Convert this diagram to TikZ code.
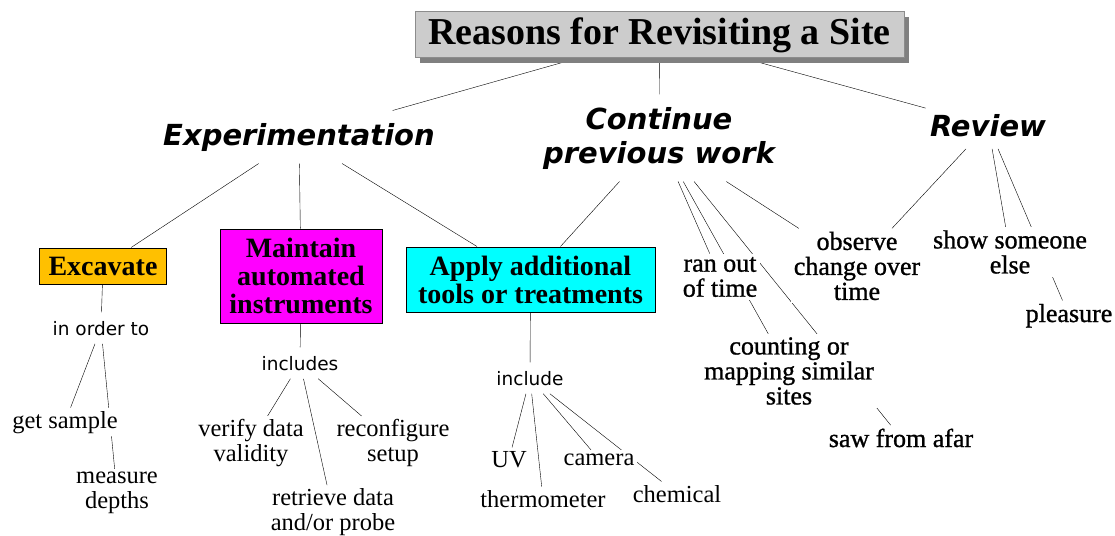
\documentclass[tikz,border=0pt]{standalone}
\usepackage{fontspec}
\setmainfont{Liberation Serif}
\newfontfamily\catfamily{DejaVu Sans Bold Oblique}
\newfontfamily\linkfamily{DejaVu Sans}
\newfontfamily\heavyfamily{Liberation Serif}[FakeBold=1]
\usetikzlibrary{backgrounds,shadows}
\definecolor{titlegray}{RGB}{204,204,204}
\definecolor{excavateorange}{RGB}{255,192,0}
\definecolor{maintainmagenta}{RGB}{255,0,255}
\definecolor{applycyan}{RGB}{0,255,255}

\begin{document}
\begin{tikzpicture}[x=1pt, y=1pt, line width=1pt,
    titlebox/.style={draw=black!45, fill=titlegray, minimum width=489pt, minimum height=46pt, outer sep=4pt,
        general shadow={fill=black!50, shadow xshift=5pt, shadow yshift=-5pt},
        font=\bfseries\fontsize{38}{40}\selectfont},
    category/.style={font=\catfamily\fontsize{29}{34}\selectfont, align=center, inner xsep=4pt, inner ysep=12pt, fill=white},
    actbox/.style={draw, font=\bfseries\fontsize{28}{28}\selectfont, align=center},
    linkword/.style={font=\linkfamily\fontsize{18.5}{22}\selectfont, inner xsep=4pt, inner ysep=8pt, fill=white},
    leaf/.style={font=\fontsize{24.5}{24.5}\selectfont, align=center, inner sep=3pt, fill=white},
    bigleaf/.style={font=\heavyfamily\fontsize{26}{25}\selectfont, align=center, inner sep=3pt, fill=white}]
    \useasboundingbox (0,0) rectangle (1115,-535);

    \node[titlebox] (title) at (659.5,-35) {Reasons for Revisiting a Site};
    \node[category, anchor=base] (exp) at (299,-145) {Experimentation};
    \node[category] (cont) at (659,-138) {Continue\\previous work};
    \node[category, anchor=base] (review) at (988,-136) {Review};

    \node[actbox, fill=excavateorange, minimum width=127pt, minimum height=36pt] (excavate) at (103,-266) {Excavate};
    \node[actbox, fill=maintainmagenta, minimum width=162pt, minimum height=94pt] (maintain) at (301,-276) {Maintain\\automated\\instruments};
    \node[actbox, fill=applycyan, minimum width=249pt, minimum height=65pt] (apply) at (530.5,-279.5) {Apply additional\\tools or treatments};

    \node[linkword, anchor=base] (inorder) at (101,-335) {in order to};
    \node[linkword, anchor=base] (includes) at (300,-370) {includes};
    \node[linkword, anchor=base] (include) at (530,-385) {include};

    \node[leaf, anchor=base] (sample) at (65,-428) {get sample};
    \node[leaf] (depths) at (117,-493) {measure\\depths};
    \node[leaf] (verify) at (251,-443) {verify data\\validity};
    \node[leaf] (retrieve) at (333,-512) {retrieve data\\and/or probe};
    \node[leaf] (reconfig) at (393,-443) {reconfigure\\setup};
    \node[leaf, anchor=base] (uv) at (509,-467) {UV};
    \node[leaf, anchor=base] (thermo) at (543,-507) {thermometer};
    \node[leaf, anchor=base] (camera) at (599,-465) {camera};
    \node[leaf, anchor=base] (chemical) at (677,-502) {chemical};

    \node[bigleaf] (ranout) at (720,-277) {ran out\\of time};
    \node[bigleaf] (counting) at (789,-371) {counting or\\mapping similar\\sites};
    \node[bigleaf, anchor=base] (afar) at (901,-447) {saw from afar};
    \node[bigleaf] (observe) at (857,-266) {observe\\change over\\time};
    \node[bigleaf] (show) at (1010,-252) {show someone\\else};
    \node[bigleaf, anchor=base] (pleasure) at (1069,-322) {pleasure};

    \begin{scope}[on background layer]
    \draw (title) -- (exp);
    \draw (title) -- (cont);
    \draw (title) -- (review);
    \draw (exp) -- (excavate);
    \draw (exp) -- (maintain);
    \draw (exp) -- (apply);
    \draw (cont) -- (apply);
    \draw (cont) -- (ranout);
    \draw (cont) -- (counting);
    \draw (cont) -- (afar);
    \draw (cont) -- (observe);
    \draw (review) -- (observe);
    \draw (review) -- (show);
    \draw (review) -- (pleasure);
    \draw (excavate) -- (inorder);
    \draw (inorder) -- (sample);
    \draw (inorder) -- (depths);
    \draw (maintain) -- (includes);
    \draw (includes) -- (verify);
    \draw (includes) -- (retrieve);
    \draw (includes) -- (reconfig);
    \draw (apply) -- (include);
    \draw (include) -- (uv);
    \draw (include) -- (thermo);
    \draw (include) -- (camera);
    \draw (include) -- (chemical);
    \end{scope}
\end{tikzpicture}
\end{document}
